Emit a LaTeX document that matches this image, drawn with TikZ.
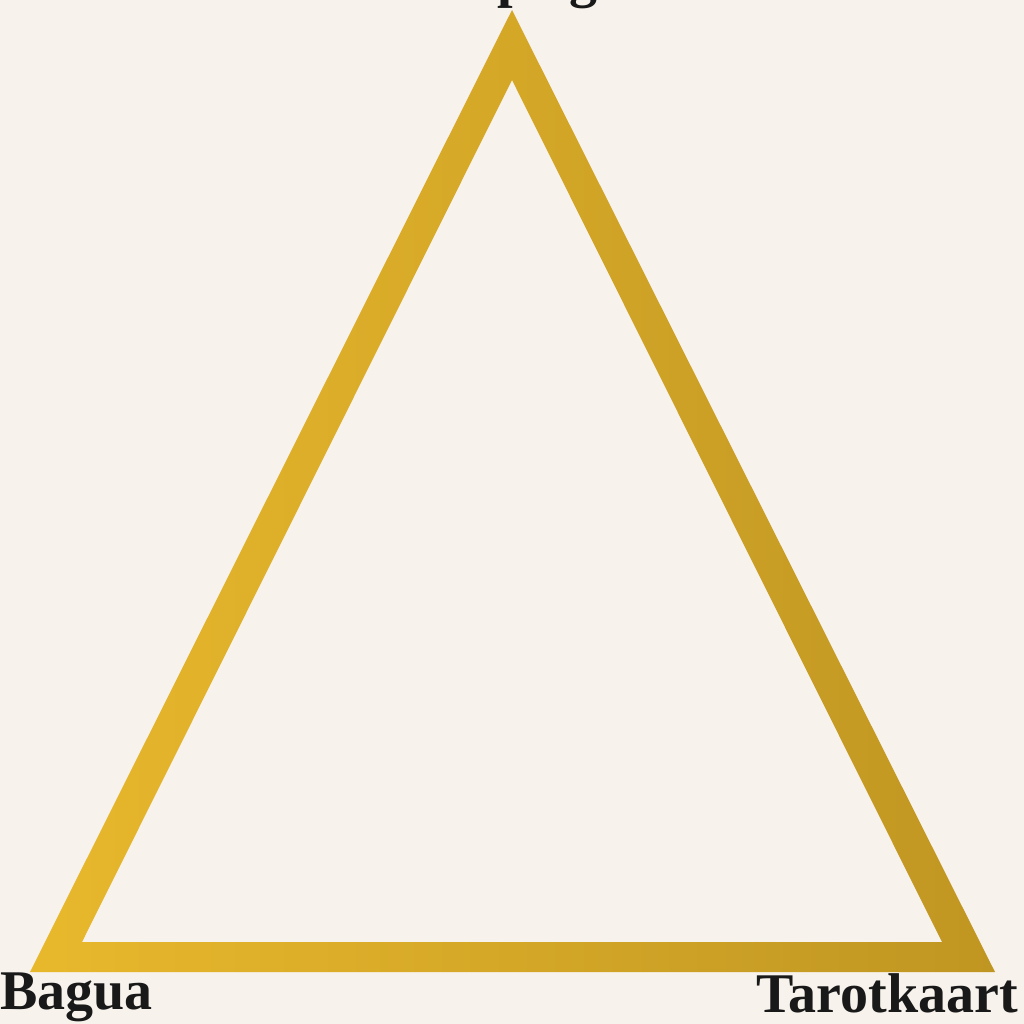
\documentclass[tikz,border=0pt]{standalone}
\usepackage{fontspec}
\setmainfont{Liberation Serif}
\begin{document}
\begin{tikzpicture}[x=1pt,y=-1pt,
  lbl/.style={font=\fontsize{56}{60}\selectfont\bfseries, text=black!90, inner sep=0pt}]
\definecolor{bg}{RGB}{247,242,236}
\definecolor{goldL}{RGB}{232,184,44}
\definecolor{goldR}{RGB}{192,150,34}
\fill[bg] (0,0) rectangle (1024,1024);
\useasboundingbox (0,0) rectangle (1024,1024);
% triangle frame
\coordinate (oA) at (512,10);
\coordinate (oB) at (30,972);
\coordinate (oC) at (995,972);
\coordinate (iA) at (512,80);
\coordinate (iB) at (82,942);
\coordinate (iC) at (942,942);
\shade[left color=goldL, right color=goldR, even odd rule]
  (oA) -- (oB) -- (oC) -- cycle
  (iA) -- (iB) -- (iC) -- cycle;
% labels
\node[lbl, anchor=base west] (bagua) at (0,1009) {Bagua};
\node[lbl, anchor=base east] (tarot) at (1018,1012) {Tarotkaart};
\node[lbl, anchor=base] (top) at (552,-3) {Spiegel};
\end{tikzpicture}
\end{document}
